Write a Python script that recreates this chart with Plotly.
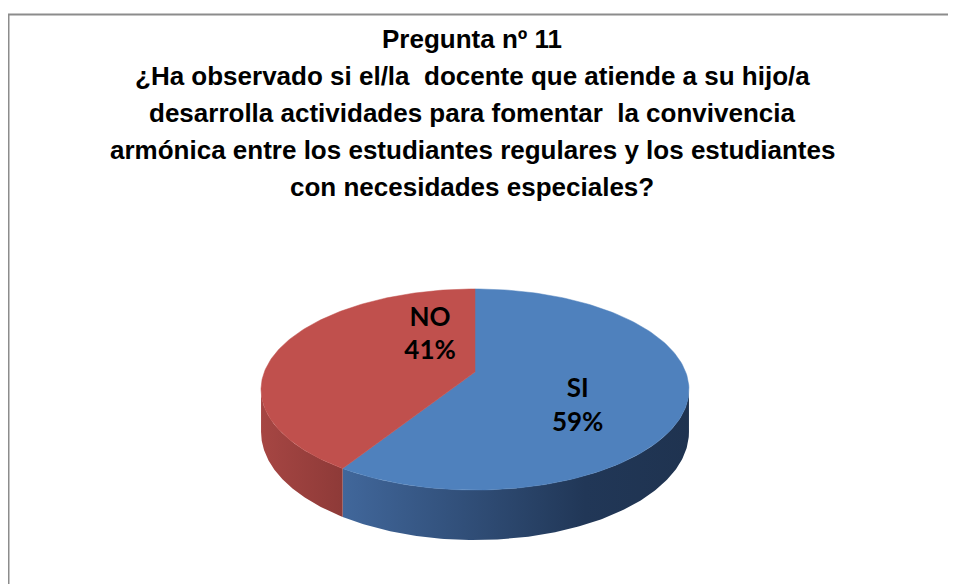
import numpy as np
import plotly.graph_objects as go

# ---------------- data ----------------
labels = ["SI", "NO"]
values = [59, 41]
title_lines = [
    "Pregunta nº 11",
    "¿Ha observado si el/la  docente que atiende a su hijo/a",
    "desarrolla actividades para fomentar  la convivencia",
    "armónica entre los estudiantes regulares y los estudiantes",
    "con necesidades especiales?",
]

# ---------------- style ----------------
top_colors = ["#4F81BD", "#C0504D"]
side_scales = [
    [[0, "#41679B"], [0.7, "#213757"], [1, "#1F3350"]],
    [[0, "#A64643"], [1, "#8E3A38"]],
]
# label anchors in unit-disk coordinates (u right, w toward viewer)
label_disk = [(0.458, 0.343), (-0.228, -0.394)]

W, H = 956, 584
PAGE_OFF = 8  # page body margin, so axis units equal window pixels
CX, CY, RX, RY = 475, 372, 210.7, 97.5   # projected centre / radii of top face
PERSP = 0.174                            # perspective strength
DEPTH0 = 41.3                            # wall height before perspective
TITLE_FONT = "Liberation Sans, Arial, sans-serif"
TITLE_SIZE = 26
TITLE_X = 472
TITLE_BASE0 = 48
TITLE_STEP = 37.2


def project(u, w, dy=0.0):
    d = 1.0 - PERSP * w
    return CX + RX * u / d, CY + (RY * w + dy) / d


def arc(a0, a1, dy=0.0, n=160):
    t = np.radians(np.linspace(a0, a1, n))
    return project(np.sin(t), -np.cos(t), dy)


total = float(sum(values))
fracs = [v / total for v in values]
starts = np.concatenate([[0.0], np.cumsum(fracs)[:-1]]) * 360.0
ends = starts + np.array(fracs) * 360.0

# angles where the wall silhouette is widest (cos = -p)
side_a = np.degrees(np.arccos(-PERSP))
front0, front1 = side_a, 360.0 - side_a

fig = go.Figure()

# side walls (front part only)
for i, lab in enumerate(labels):
    a0 = max(starts[i], front0)
    a1 = min(ends[i], front1)
    if a1 <= a0:
        continue
    xt, yt = arc(a0, a1)
    xb, yb = arc(a0, a1, DEPTH0)
    xs = np.concatenate([xt, xb[::-1], xt[:1]])
    ys = np.concatenate([yt, yb[::-1], yt[:1]])
    fig.add_trace(go.Scatter(
        x=xs, y=ys, mode="lines", fill="toself",
        line=dict(width=0, color=side_scales[i][0][1]),
        fillgradient=dict(type="horizontal", colorscale=side_scales[i]),
        hoverinfo="skip", showlegend=False,
    ))

# top faces
for i, lab in enumerate(labels):
    xa, ya = arc(starts[i], ends[i])
    xs = np.concatenate([[CX], xa, [CX]])
    ys = np.concatenate([[CY], ya, [CY]])
    fig.add_trace(go.Scatter(
        x=xs, y=ys, mode="lines", fill="toself",
        line=dict(width=0.5, color=top_colors[i]),
        fillcolor=top_colors[i],
        hoverinfo="skip", showlegend=False, name=lab,
    ))

# data labels
lx, ly = [], []
for u, w in label_disk:
    px, py = project(u, w)
    lx.append(px)
    ly.append(py)
texts = [f"{lab}<br>{round(f * 100)}%" for lab, f in zip(labels, fracs)]
fig.add_trace(go.Scatter(
    x=lx, y=ly, mode="text", text=texts, textposition="middle center",
    textfont=dict(family="Lato, Open Sans, sans-serif", size=26, color="#000000", weight="bold"),
    hoverinfo="skip", showlegend=False,
))

# title lines
for k, line in enumerate(title_lines):
    fig.add_annotation(
        x=TITLE_X, y=TITLE_BASE0 + k * TITLE_STEP - 0.36 * TITLE_SIZE,
        xref="x", yref="y", text=line, showarrow=False,
        xanchor="center", yanchor="middle",
        font=dict(family=TITLE_FONT, size=TITLE_SIZE, color="#000000", weight="bold"),
    )

# chart border
fig.add_shape(type="rect", xref="x", yref="y", x0=8.5, y0=14.5, x1=W + 40, y1=H + 40,
              line=dict(color="#8C8C8C", width=2), fillcolor="rgba(0,0,0,0)", layer="below")

fig.update_layout(
    width=W, height=H,
    margin=dict(l=0, r=0, t=0, b=0),
    paper_bgcolor="white", plot_bgcolor="white",
    xaxis=dict(range=[PAGE_OFF, W + PAGE_OFF], visible=False, fixedrange=True),
    yaxis=dict(range=[H + PAGE_OFF, PAGE_OFF], visible=False, fixedrange=True),
    showlegend=False,
)

fig.write_html("out.html")
